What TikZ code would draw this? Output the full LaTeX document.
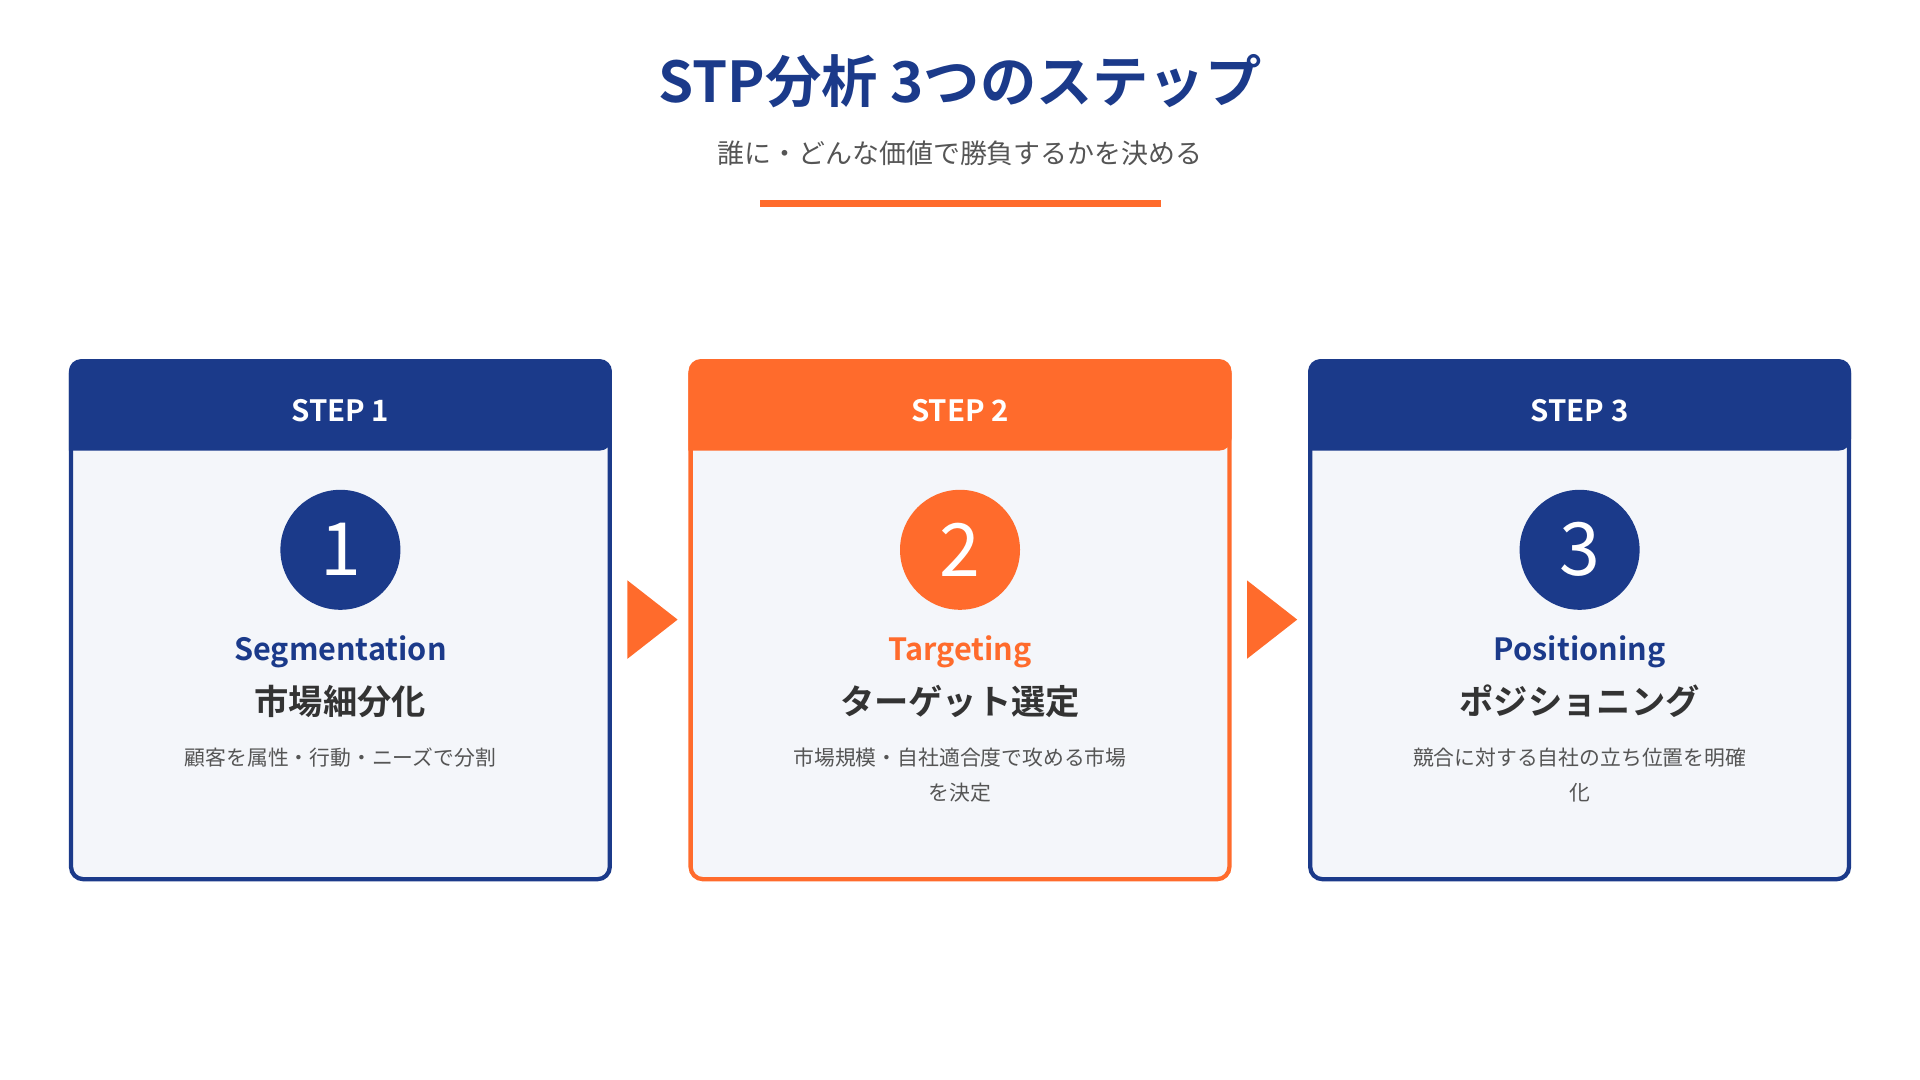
\documentclass[tikz,border=0pt]{standalone}
\usepackage{fontspec}
\setmainfont{Noto Sans CJK JP}[BoldFont={Noto Sans CJK JP Bold}]
\usetikzlibrary{shapes.geometric, positioning}
\definecolor{navy}{HTML}{1B3A8A}
\definecolor{accent}{HTML}{FF6B2C}
\definecolor{cardbg}{HTML}{F4F6FA}
\definecolor{ink}{HTML}{333333}
\definecolor{muted}{HTML}{555555}
\newcommand{\fs}[2]{\fontsize{#1}{#2}\selectfont}

\begin{document}
\begin{tikzpicture}[x=1pt, y=1pt,
    stepnum/.style={circle, minimum size=98pt, inner sep=0pt, text=white, font=\fs{60}{70}},
    steplabel/.style={text=white, font=\bfseries\fs{24}{28}},
    enlabel/.style={font=\bfseries\fs{25}{30}},
    jplabel/.style={text=ink, font=\bfseries\fs{28}{33}},
    desc/.style={text=muted, font=\fs{17}{29}, align=center},
    flow/.style={isosceles triangle, isosceles triangle apex angle=76, fill=accent, minimum height=41pt, inner sep=0pt}]
    \useasboundingbox (0,0) rectangle (1568,-882);

    % Title
    \node[text=navy, font=\bfseries\fs{46}{54}] (title) at (784,-66) {STP分析 3つのステップ};
    \node[text=muted, font=\fs{22}{26}] (subtitle) at (784,-125) {誰に・どんな価値で勝負するかを決める};
    \fill[accent] (621,-163) rectangle (948,-169);

    % Cards
    \foreach \i/\x/\c/\en/\jp/\txt in {
        1/58/navy/Segmentation/市場細分化/{顧客を属性・行動・ニーズで分割},
        2/564/accent/Targeting/ターゲット選定/{市場規模・自社適合度で攻める市場\\を決定},
        3/1070/navy/Positioning/ポジショニング/{競合に対する自社の立ち位置を明確\\化}} {
        \draw[\c, fill=cardbg, line width=3.5pt, rounded corners=10pt] (\x,-295) rectangle ++(440,-423);
        \fill[\c] (\x-1.75,-368) [rounded corners=10pt] |- (\x+220,-293.25) -| (\x+441.75,-368) [sharp corners] -- cycle;
        \node[steplabel] (head\i) at (\x+220,-335) {STEP \i};
        \node[stepnum, fill=\c] (num\i) at (\x+220,-449) {\i};
        \node[enlabel, text=\c] (en\i) at (\x+220,-532) {\en};
        \node[jplabel] (jp\i) at (\x+220,-573) {\jp};
        \node[desc, anchor=north] (desc\i) at (\x+220,-607) {\txt};
    }

    % Flow arrows
    \node[flow] (arr1) at (528,-506) {};
    \node[flow] (arr2) at (1034,-506) {};
\end{tikzpicture}
\end{document}
